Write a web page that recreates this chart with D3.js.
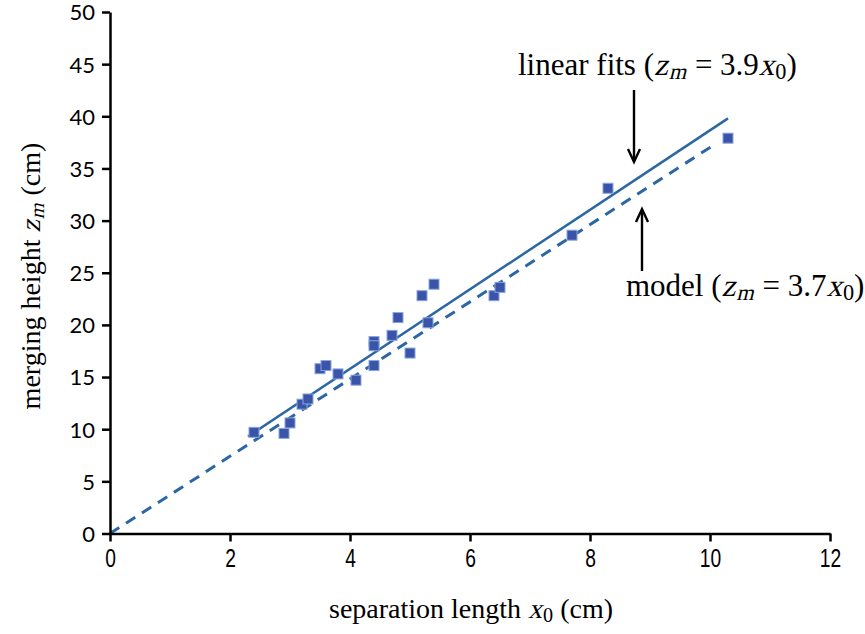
<!DOCTYPE html>
<html>
<head>
<meta charset="UTF-8">
<script src="https://d3js.org/d3.v7.min.js"></script>
<style>
    body { margin: 0; background: #fff; }
    .serif { font-family: "Liberation Serif", "Times New Roman", serif; fill: #000; white-space: pre; }
    .ytick text { font-family: Lato, "Open Sans", sans-serif; font-size: 22px; }
    .xtick text { font-family: "Liberation Sans", sans-serif; font-size: 26px; }
</style>
</head>
<body>
<svg width="865" height="634"></svg>
<script>
// measured points: separation length x0 (cm), merging height zm (cm)
let sepLength = [2.4, 2.9, 3.0, 3.2, 3.3, 3.5, 3.6, 3.8, 4.1, 4.4, 4.4, 4.4, 4.7, 4.8, 5.0, 5.2, 5.3, 5.4, 6.4, 6.5, 7.7, 8.3, 10.3];
let mergeHeight = [9.7, 9.6, 10.6, 12.4, 12.9, 15.8, 16.1, 15.3, 14.7, 18.4, 18.0, 16.1, 19.0, 20.7, 17.3, 22.8, 20.2, 23.9, 22.8, 23.6, 28.6, 33.1, 37.9];

// trend lines (x range and end values)
let fitX = [2.3, 10.3];
let fitY = [9.3, 39.8];
let modelX = [0, 10.05];
let modelY = [0, 37.2];

let xTicks = [0, 2, 4, 6, 8, 10, 12];
let yTicks = [0, 5, 10, 15, 20, 25, 30, 35, 40, 45, 50];

let svg = d3.select("svg");
let x = d3.scaleLinear().domain([0, 12]).range([110, 830]);
let y = d3.scaleLinear().domain([0, 50]).range([533.5, 12]);

let lineColor = "#2b67a3";

// trend lines
let line = d3.line().x(d => x(d[0])).y(d => y(d[1]));
svg.append("path")
    .datum(d3.zip(modelX, modelY))
    .attr("d", line)
    .attr("fill", "none")
    .attr("stroke", lineColor)
    .attr("stroke-width", 3)
    .attr("stroke-dasharray", "11,8");

svg.append("path")
    .datum(d3.zip(fitX, fitY))
    .attr("d", line)
    .attr("fill", "none")
    .attr("stroke", lineColor)
    .attr("stroke-width", 2.5);

// points
svg.append("g")
    .selectAll("rect")
    .data(d3.zip(sepLength, mergeHeight))
    .enter().append("rect")
    .attr("x", d => x(d[0]) - 5)
    .attr("y", d => y(d[1]) - 5)
    .attr("width", 10)
    .attr("height", 10)
    .attr("fill", "#3b54aa")
    .attr("stroke", "#86a6dc")
    .attr("stroke-width", 1);

// axes
let yAxis = svg.append("g")
    .attr("class", "ytick")
    .attr("transform", "translate(110,0)")
    .call(d3.axisLeft(y).tickValues(yTicks).tickSize(8).tickPadding(7).tickSizeOuter(0));

let xAxis = svg.append("g")
    .attr("class", "xtick")
    .attr("transform", "translate(0,533.5)")
    .call(d3.axisBottom(x).tickValues(xTicks).tickSize(8).tickSizeOuter(0));

[yAxis, xAxis].forEach(a => {
    a.select(".domain").attr("stroke", "#000").attr("stroke-width", 2.5);
    a.selectAll(".tick line").attr("stroke", "#000").attr("stroke-width", 2.5);
    a.selectAll("text").attr("fill", "#000");
});
yAxis.selectAll("text").attr("dy", "0.36em");
// narrow digits on the x axis
xAxis.selectAll(".tick text")
    .attr("transform", "scale(0.74,1)")
    .attr("x", 0)
    .attr("y", 34)
    .attr("dy", 0);

// rich text: segments laid out one after another, italics skewed
function richText(g, size, segs, anchor) {
    let cx = 0;
    segs.forEach(s => {
        let fs = s.sub ? size * 0.72 : size;
        let t = g.append("text")
            .attr("class", "serif")
            .attr("font-size", fs)
            .attr("transform", "translate(" + cx + "," + (s.sub ? size * 0.13 : 0) + ")" + (s.it ? " skewX(-14)" : ""))
            .text(s.t);
        cx += t.node().getComputedTextLength() + (s.it ? 1 : 0);
    });
    if (anchor === "middle") {
        g.selectAll("text").each(function () {
            let tr = d3.select(this).attr("transform");
            d3.select(this).attr("transform", "translate(" + (-cx / 2) + ",0) " + tr);
        });
    }
}

richText(svg.append("g").attr("transform", "translate(471,618)"), 28, [
    { t: "separation length " },
    { t: "x", it: true },
    { t: "0", sub: true },
    { t: " (cm)" }
], "middle");

richText(svg.append("g").attr("transform", "translate(40,276) rotate(-90)"), 28, [
    { t: "merging height " },
    { t: "z", it: true },
    { t: "m", it: true, sub: true },
    { t: " (cm)" }
], "middle");

richText(svg.append("g").attr("transform", "translate(518,75)"), 31, [
    { t: "linear fits (" },
    { t: "z", it: true },
    { t: "m", it: true, sub: true },
    { t: " = 3.9" },
    { t: "x", it: true },
    { t: "0", sub: true },
    { t: ")" }
]);

richText(svg.append("g").attr("transform", "translate(626,296)"), 31, [
    { t: "model (" },
    { t: "z", it: true },
    { t: "m", it: true, sub: true },
    { t: " = 3.7" },
    { t: "x", it: true },
    { t: "0", sub: true },
    { t: ")" }
]);

// arrows
function arrow(x0, y0, y1) {
    let dir = y1 > y0 ? 1 : -1;
    svg.append("line")
        .attr("x1", x0).attr("y1", y0).attr("x2", x0).attr("y2", y1 - dir)
        .attr("stroke", "#000").attr("stroke-width", 2.4);
    svg.append("path")
        .attr("d", "M" + (x0 - 6) + "," + (y1 - dir * 13) + " L" + x0 + "," + y1 + " L" + (x0 + 6) + "," + (y1 - dir * 13))
        .attr("fill", "none")
        .attr("stroke", "#000")
        .attr("stroke-width", 2.4)
        .attr("stroke-linejoin", "miter");
}
arrow(634, 90, 162);
arrow(642, 271, 209);
</script>
</body>
</html>
